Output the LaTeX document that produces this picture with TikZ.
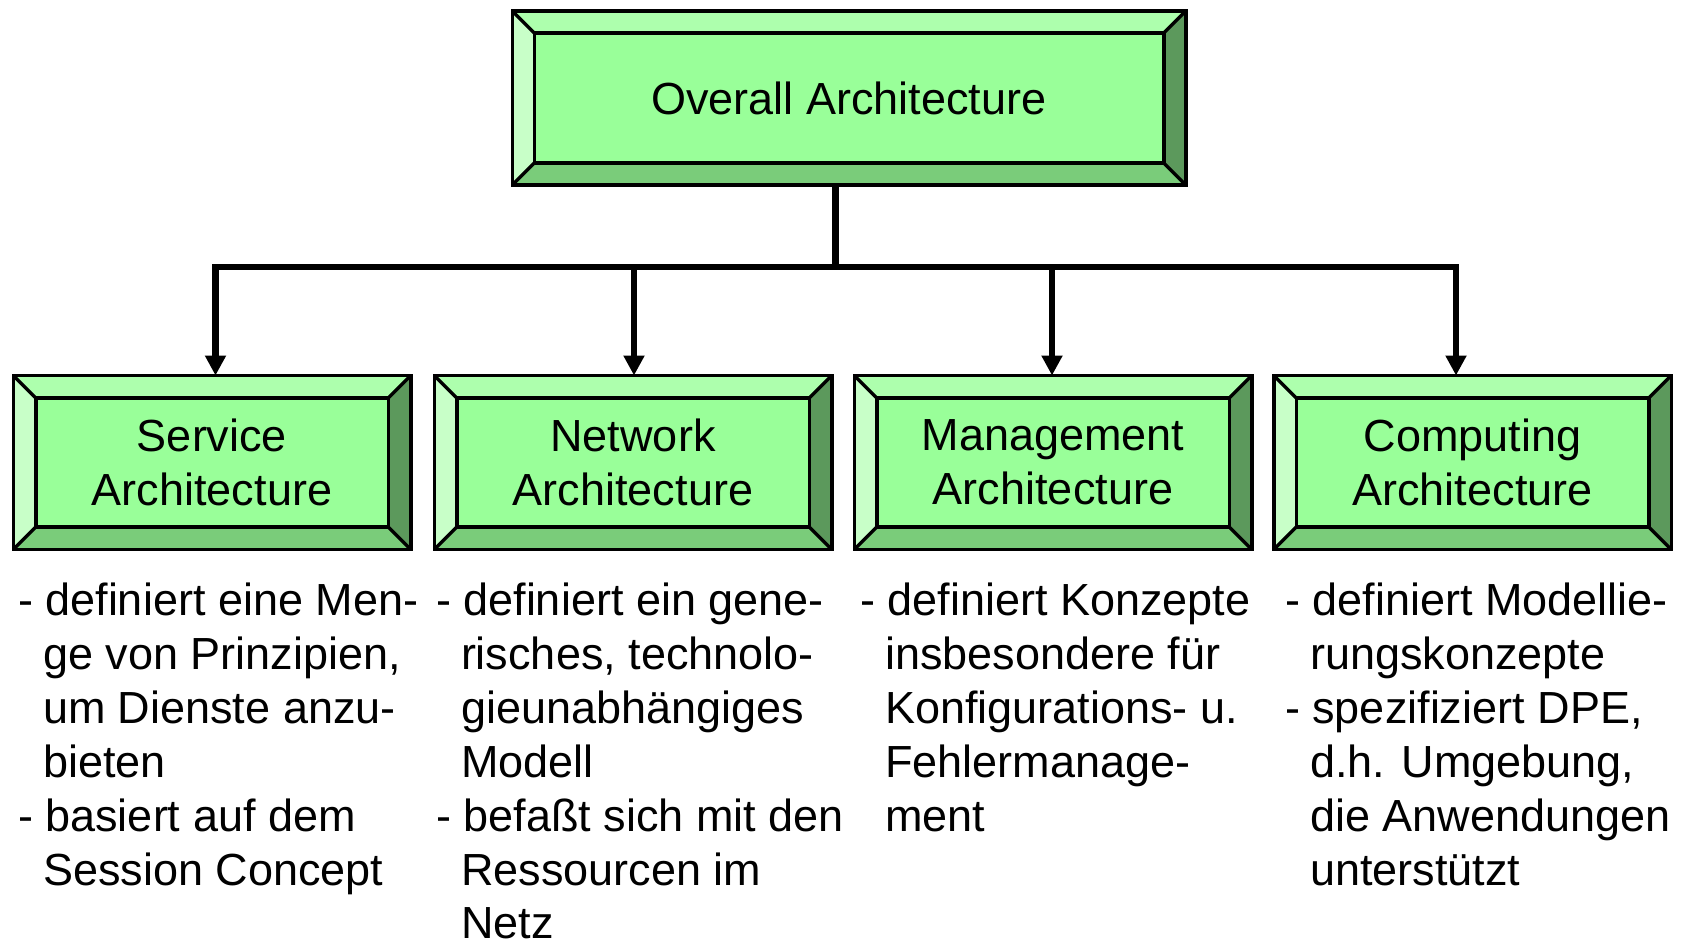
\documentclass[tikz,border=0pt]{standalone}
\usepackage{fontspec}
\setmainfont{Liberation Sans}
\usetikzlibrary{arrows.meta}
\definecolor{bvface}{HTML}{99FF99}
\definecolor{bvtop}{HTML}{ADFFAD}
\definecolor{bvleft}{HTML}{C8FFC8}
\definecolor{bvright}{HTML}{5C995C}
\definecolor{bvbot}{HTML}{7ACC7A}
\newcommand{\bevels}[2]{%
  \coordinate (#1a) at ([shift={(#2,-#2)}]#1.north west);
  \coordinate (#1b) at ([shift={(-#2,-#2)}]#1.north east);
  \coordinate (#1c) at ([shift={(-#2,#2)}]#1.south east);
  \coordinate (#1d) at ([shift={(#2,#2)}]#1.south west);
  \fill[bvtop] (#1.north west) -- (#1.north east) -- (#1b) -- (#1a) -- cycle;
  \fill[bvleft] (#1.north west) -- (#1a) -- (#1d) -- (#1.south west) -- cycle;
  \fill[bvright] (#1.north east) -- (#1.south east) -- (#1c) -- (#1b) -- cycle;
  \fill[bvbot] (#1.south west) -- (#1d) -- (#1c) -- (#1.south east) -- cycle;
  \draw[bvline] (#1.north west) rectangle (#1.south east);
  \draw[bvline] (#1a) rectangle (#1c);
  \draw[bvline] (#1.north west) -- (#1a) (#1.north east) -- (#1b)
                (#1.south east) -- (#1c) (#1.south west) -- (#1d);
}
\newcommand{\ind}{\hspace*{25pt}}
\begin{document}
\begin{tikzpicture}[x=1pt,y=-1pt,
  face/.style={fill=bvface, draw=none, outer sep=0pt, inner sep=0pt,
    align=center, font=\fontsize{45}{54}\selectfont},
  bvline/.style={draw=black, line width=3.5pt, line join=miter},
  conn/.style={draw=black, line width=6.5pt},
  arrowc/.style={conn, -{Triangle[length=20pt,width=20pt]}},
  desc/.style={anchor=base west, inner sep=0pt, outer sep=0pt,
    font=\fontsize{45}{53.9}\selectfont}]
\fill[white] (0,0) rectangle (1681,941);
\useasboundingbox (0,0) rectangle (1681,941);

% boxes
\node[face, minimum width=673.5pt, minimum height=174pt] (top) at (849,98) {Overall Architecture};
\bevels{top}{22pt}
\node[face, minimum width=397.5pt, minimum height=174pt] (serv) at (212,462.5) {Service\\Architecture};
\bevels{serv}{22.5pt}
\node[face, minimum width=397.5pt, minimum height=174pt] (net) at (633,462.5) {Network\\Architecture};
\bevels{net}{22.5pt}
\node[face, minimum width=397.5pt, minimum height=174pt] (mgmt) at (1053,462.5) {Management\\Architecture};
\bevels{mgmt}{22.5pt}
\node[face, minimum width=397.5pt, minimum height=174pt] (comp) at (1472.5,462.5) {Computing\\Architecture};
\bevels{comp}{22.5pt}

% connectors
\coordinate (j) at (835.5,267);
\draw[conn] (top.south -| j) -- (j);
\draw[arrowc] (j) -| ([xshift=3.5pt]serv.north);
\draw[arrowc] (j) -| ([xshift=-16.5pt]comp.north);
\draw[arrowc] ([xshift=1pt]net.north |- j) -- ([xshift=1pt]net.north);
\draw[arrowc] ([xshift=-1pt]mgmt.north |- j) -- ([xshift=-1pt]mgmt.north);

% descriptions
\node[desc] (d1) at (18,615.5) {\parbox[t]{460pt}{- definiert eine Men-\\\ind ge von Prinzipien,\\\ind um Dienste anzu-\\\ind bieten\\- basiert auf dem\\\ind Session Concept}};
\node[desc] (d2) at (436,615.5) {\parbox[t]{460pt}{- definiert ein gene-\\\ind risches, technolo-\\\ind gieunabhängiges\\\ind Modell\\- befaßt sich mit den\\\ind Ressourcen im\\\ind Netz}};
\node[desc] (d3) at (860,615.5) {\parbox[t]{460pt}{- definiert Konzepte\\\ind insbesondere für\\\ind Konfigurations- u.\\\ind Fehlermanage-\\\ind ment}};
\node[desc] (d4) at (1285,615.5) {\parbox[t]{460pt}{- definiert Modellie-\\\ind rungskonzepte\\- spezifiziert DPE,\\\ind d.h. Umgebung,\\\ind die Anwendungen\\\ind unterstützt}};
\end{tikzpicture}
\end{document}
